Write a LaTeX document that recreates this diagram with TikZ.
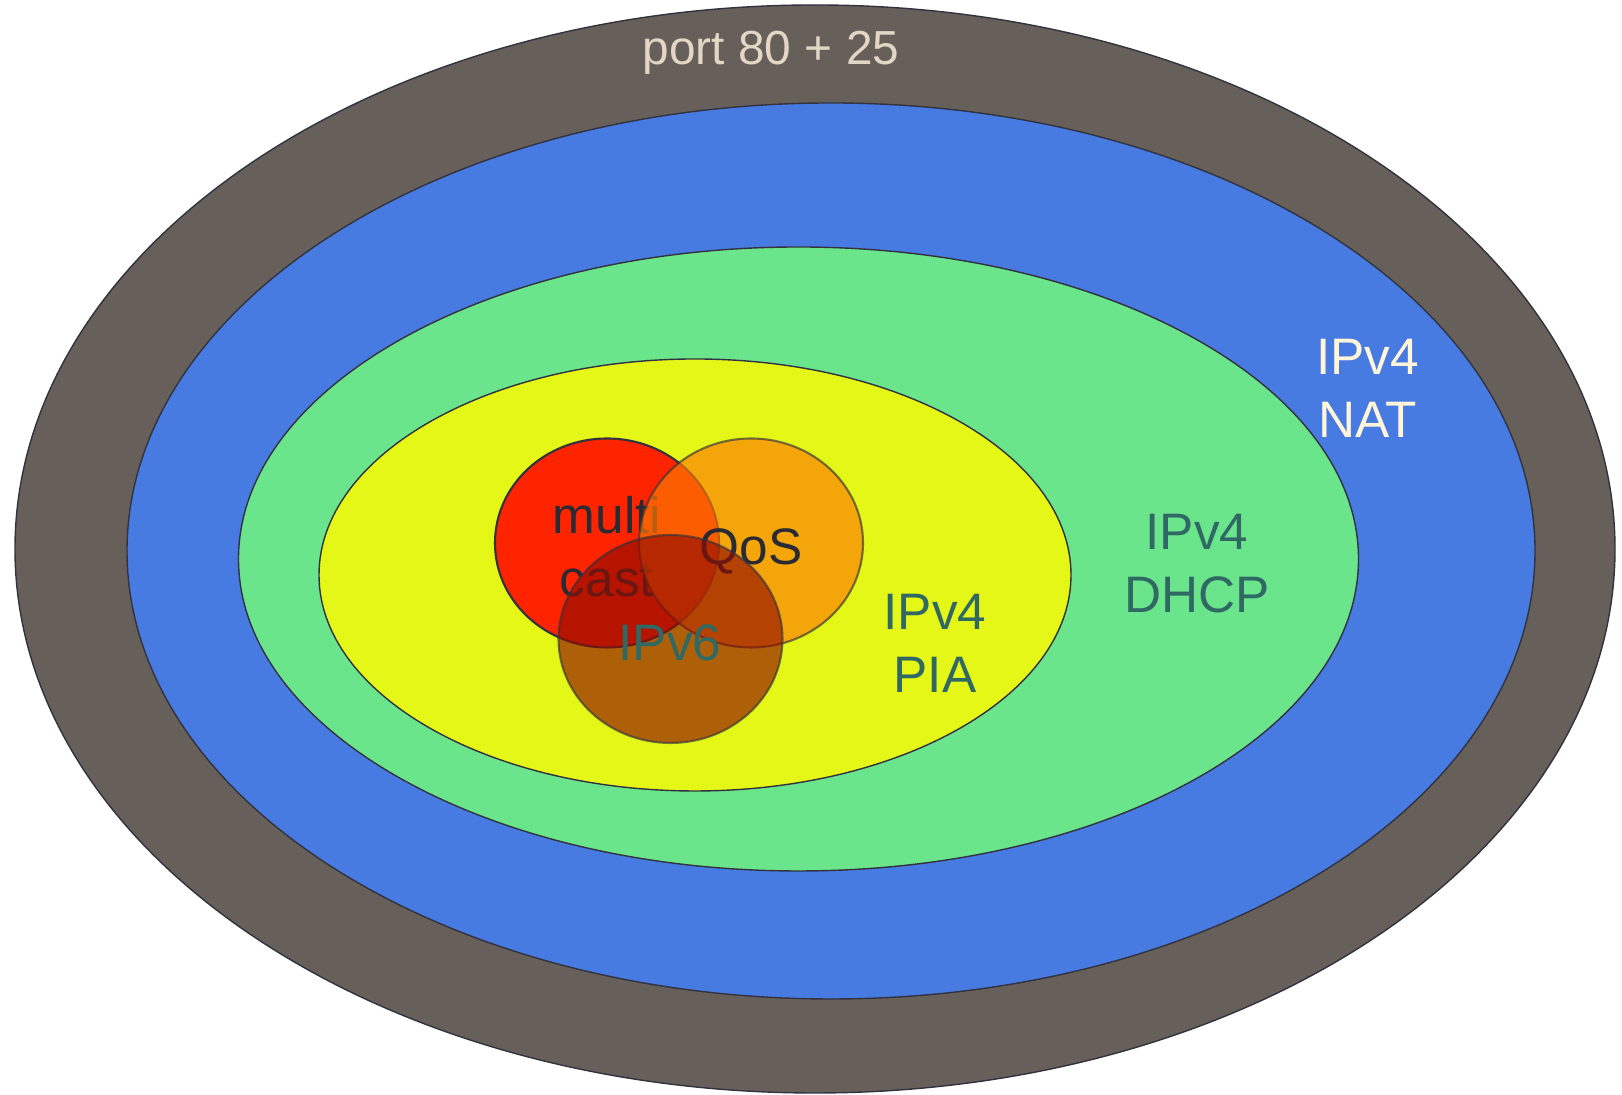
\documentclass[tikz,border=0pt]{standalone}
\usepackage{fontspec}
\setmainfont{Liberation Sans}
\usepackage{tikz}
\usetikzlibrary{positioning, shapes.geometric}

\definecolor{ringgray}{RGB}{103,96,90}
\definecolor{ringblue}{RGB}{71,123,225}
\definecolor{ringgreen}{RGB}{107,229,139}
\definecolor{ringyellow}{RGB}{229,247,23}
\definecolor{spotred}{RGB}{255,36,0}
\definecolor{spotorange}{RGB}{253,124,3}
\definecolor{spotbrown}{RGB}{143,11,0}
\definecolor{edgegray}{RGB}{50,50,64}
\definecolor{beige}{RGB}{226,214,196}
\definecolor{cream}{RGB}{255,245,216}
\definecolor{teal}{RGB}{48,104,100}
\definecolor{ink}{RGB}{42,42,52}

\begin{document}
\begin{tikzpicture}[
    ring/.style={ellipse, draw=edgegray, line width=0.4pt, inner sep=0pt},
    spot/.style={ellipse, draw=edgegray, line width=0.6pt, inner sep=0pt,
                 minimum width=2.24cm, minimum height=2.09cm},
    tag/.style={font=\fontsize{14.6pt}{17.9pt}\selectfont, align=center, inner sep=0pt}
]
    \useasboundingbox (0,0) rectangle (16.22,10.95);

    % Rings
    \node[ring, fill=ringgray, minimum width=16cm, minimum height=10.88cm] (port) at (8.15,5.46) {};
    \node[ring, fill=ringblue, minimum width=14.08cm, minimum height=8.96cm] (nat) at (8.31,5.44) {};
    \node[ring, fill=ringgreen, minimum width=11.2cm, minimum height=6.24cm] (dhcp) at (7.985,5.36) {};
    \node[ring, fill=ringyellow, minimum width=7.52cm, minimum height=4.32cm] (pia) at (6.95,5.20) {};

    % Ring labels
    \node[tag, text=beige, font=\fontsize{13.6pt}{16pt}\selectfont] (portlabel) at (7.71,10.42) {port 80 + 25};
    \node[tag, text=cream] (natlabel) at (13.675,7.07) {IPv4\\NAT};
    \node[tag, text=teal] (dhcplabel) at (11.97,5.31) {IPv4\\DHCP};
    \node[tag, text=teal] (pialabel) at (9.35,4.52) {IPv4\\PIA};

    % Overlapping spots
    \node[spot, fill=spotred] (multicast) at (6.07,5.52) {};
    \node[tag, text=ink] (multicastlabel) at (6.07,5.485) {multi\\cast};
    \node[spot, fill=spotorange, opacity=0.66] (qos) at (7.51,5.52) {};
    \node[tag, text=ink] (qoslabel) at (7.51,5.44) {QoS};
    \node[spot, fill=spotbrown, opacity=0.64, minimum height=2.08cm] (ipv6) at (6.705,4.56) {};
    \node[tag, text=teal] (ipv6label) at (6.70,4.52) {IPv6};

\end{tikzpicture}
\end{document}
